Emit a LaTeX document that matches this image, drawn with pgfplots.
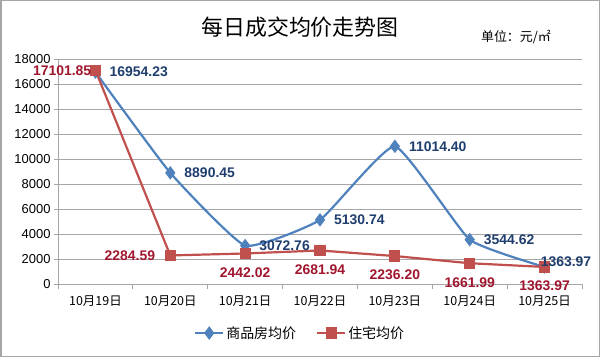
\documentclass[border=0pt]{standalone}
\usepackage{pgfplots}
\pgfplotsset{compat=1.18}
\usepackage{pgfplotstable}
\usepackage{fontspec}
\setmainfont{Liberation Sans}
\newfontfamily\cjk{Noto Sans CJK SC}
\definecolor{serA}{HTML}{4F81BD}
\definecolor{serB}{HTML}{C0504D}
\definecolor{labA}{HTML}{1F3E6E}
\definecolor{labB}{HTML}{A0162E}
\definecolor{gridc}{HTML}{A6A6A6}
\pgfplotstableread{
x y lab
0 16954.23 16954.23
1 8890.45 8890.45
2 3072.76 3072.76
3 5130.74 5130.74
4 11014.40 11014.40
5 3544.62 3544.62
6 1363.97 1363.97
}\tblA
\pgfplotstableread{
x y lab
0 17101.85 17101.85
1 2284.59 2284.59
2 2442.02 2442.02
3 2681.94 2681.94
4 2236.20 2236.20
5 1661.99 1661.99
6 1363.97 1363.97
}\tblB
\begin{document}
\begin{tikzpicture}[x=1bp,y=1bp]
\path[use as bounding box] (0,0) rectangle (600,357);
\draw[gray!70, line width=1.5bp] (0.75,0.75) rectangle (599.25,356.25);
\node[font=\cjk\fontsize{22}{24}\selectfont] at (300,330) {每日成交均价走势图};
\node[font=\cjk\fontsize{13}{15}\selectfont] at (516,320) {单位：元/㎡};
\begin{axis}[
  at={(58bp,73bp)}, anchor=south west, scale only axis,
  width=524bp, height=225bp,
  xmin=-0.5, xmax=6.5, ymin=0, ymax=18000,
  xtick={0,...,6},
  xticklabels={10月19日,10月20日,10月21日,10月22日,10月23日,10月24日,10月25日},
  xticklabel style={font=\cjk\fontsize{12.5}{14}\selectfont, yshift=-4bp},
  minor xtick={-0.5,0.5,...,6.5},
  tick align=outside,
  major x tick style={draw=none},
  minor tick length=5bp, major tick length=4bp,
  tick style={gridc, line width=0.8bp},
  ytick={0,2000,...,18000},
  scaled y ticks=false,
  yticklabel style={font=\fontsize{13}{15}\selectfont},
  /pgf/number format/assume math mode=true,
  /pgf/number format/1000 sep={},
  ymajorgrids, grid style={gridc, line width=0.8bp},
  axis x line*=bottom, axis y line*=left,
  axis line style={gridc, line width=1bp},
  clip=false,
  legend style={at={(0.462,-0.218)}, anchor=center, draw=none, fill=none,
    font=\cjk\fontsize{14}{16}\selectfont, legend columns=2,
    /tikz/every even column/.append style={column sep=18bp}},
  legend image code/.code={\draw[#1, mark repeat=2, mark phase=2] plot coordinates {(0bp,0bp) (14bp,0bp) (28bp,0bp)};},
]
\addplot[serA, line width=2.2bp, smooth, tension=0.25, mark=diamond*, mark size=5bp, mark options={solid}] table[x=x,y=y] {\tblA};
\addlegendentry{商品房均价}
\addplot[serB, line width=2.2bp, mark=square*, mark size=4.5bp, mark options={solid}] table[x=x,y=y] {\tblB};
\addlegendentry{住宅均价}
% blue labels
\addplot[draw=none, mark=none, forget plot, point meta=explicit symbolic, nodes near coords,
  every node near coord/.append style={anchor=west, inner sep=0pt, xshift=14bp, font=\bfseries\fontsize{14}{16}\selectfont, text=labA},
  skip coords between index={6}{7}] table[x=x,y=y,meta=lab] {\tblA};
\addplot[draw=none, mark=none, forget plot, point meta=explicit symbolic, nodes near coords,
  every node near coord/.append style={anchor=west, inner sep=0pt, xshift=-4bp, yshift=5bp, font=\bfseries\fontsize{14}{16}\selectfont, text=labA},
  skip coords between index={0}{6}] table[x=x,y=y,meta=lab] {\tblA};
% red labels
\addplot[draw=none, mark=none, forget plot, point meta=explicit symbolic, nodes near coords,
  every node near coord/.append style={anchor=east, inner sep=0pt, xshift=-4bp, font=\bfseries\fontsize{14}{16}\selectfont, text=labB},
  skip coords between index={1}{7}] table[x=x,y=y,meta=lab] {\tblB};
\addplot[draw=none, mark=none, forget plot, point meta=explicit symbolic, nodes near coords,
  every node near coord/.append style={anchor=east, inner sep=0pt, xshift=-15bp, font=\bfseries\fontsize{14}{16}\selectfont, text=labB},
  skip coords between index={0}{1}, skip coords between index={2}{7}] table[x=x,y=y,meta=lab] {\tblB};
\addplot[draw=none, mark=none, forget plot, point meta=explicit symbolic, nodes near coords,
  every node near coord/.append style={anchor=north, inner sep=0pt, yshift=-14bp, font=\bfseries\fontsize{14}{16}\selectfont, text=labB},
  skip coords between index={0}{2}] table[x=x,y=y,meta=lab] {\tblB};
\end{axis}
\end{tikzpicture}
\end{document}
